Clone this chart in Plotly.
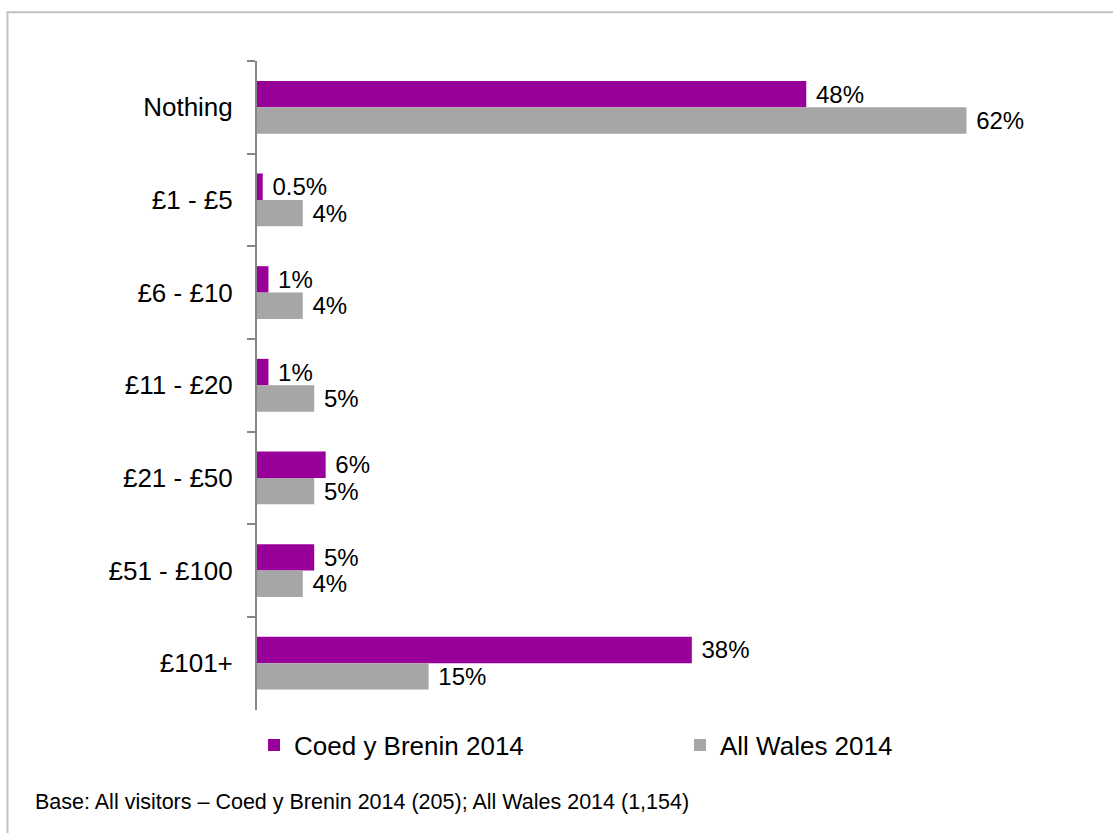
import plotly.graph_objects as go

# Spend categories, top to bottom
categories = ["Nothing", "£1 - £5", "£6 - £10", "£11 - £20", "£21 - £50", "£51 - £100", "£101+"]

# Share of visitors (%) per spend band
coed_y_brenin_2014 = [48, 0.5, 1, 1, 6, 5, 38]
all_wales_2014 = [62, 4, 4, 5, 5, 4, 15]

series_names = ["Coed y Brenin 2014", "All Wales 2014"]
footnote = "Base: All visitors – Coed y Brenin 2014 (205); All Wales 2014 (1,154)"

PURPLE = "#990099"
GREY = "#a6a6a6"
FONT = "Liberation Sans, Arial, sans-serif"

W, H = 1113, 833
ML, MR, MT, MB = 257, 55, 61, 121


def pct_label(v):
    return "\u00a0" + f"{v:g}%"


fig = go.Figure()
for name, vals, color, leg in [
    (series_names[0], coed_y_brenin_2014, PURPLE, "legend"),
    (series_names[1], all_wales_2014, GREY, "legend2"),
]:
    fig.add_trace(go.Bar(
        name=name,
        y=categories,
        x=vals,
        orientation="h",
        marker=dict(color=color, line=dict(width=0)),
        text=[pct_label(v) for v in vals],
        textposition="outside",
        textfont=dict(family=FONT, size=24, color="#000000"),
        constraintext="none",
        cliponaxis=False,
        legend=leg,
        showlegend=True,
        hoverinfo="skip",
    ))

plot_w = W - ML - MR
plot_h = H - MT - MB


def px_x(px):
    return (px - ML) / plot_w


def px_y(py):
    return (H - MB - py) / plot_h


legend_style = dict(
    xref="container", yref="container",
    xanchor="left", yanchor="middle",
    orientation="h",
    font=dict(family=FONT, size=26, color="#000000"),
    bgcolor="rgba(0,0,0,0)",
    itemwidth=30,
)

fig.update_layout(
    width=W,
    height=H,
    margin=dict(l=ML, r=MR, t=MT, b=MB, pad=0),
    paper_bgcolor="white",
    plot_bgcolor="white",
    barmode="group",
    bargap=0.43,
    bargroupgap=0,
    showlegend=True,
    font=dict(family=FONT, color="#000000"),
    xaxis=dict(
        range=[0, 70],
        visible=False,
        showgrid=False,
        zeroline=False,
    ),
    yaxis=dict(
        autorange="reversed",
        showline=True,
        linecolor="#868686",
        linewidth=2,
        ticks="outside",
        tickson="boundaries",
        ticklen=8,
        tickwidth=1.5,
        tickcolor="#868686",
        ticklabelstandoff=17,
        tickfont=dict(family=FONT, size=26, color="#000000"),
        showgrid=False,
        zeroline=False,
    ),
    legend=dict(legend_style, x=254 / W, y=1 - 745 / H),
    legend2=dict(legend_style, x=680 / W, y=1 - 745 / H),
    shapes=[
        # outer chart frame (left and top edges visible)
        dict(
            type="rect", xref="paper", yref="paper",
            x0=px_x(7.5), x1=px_x(W + 20),
            y0=px_y(H + 20), y1=px_y(12),
            line=dict(color="#c0c0c0", width=2),
            fillcolor="rgba(0,0,0,0)",
            layer="below",
        ),
    ],
    annotations=[
        dict(
            text=footnote,
            xref="paper", yref="paper",
            x=px_x(33), y=px_y(805),
            xanchor="left", yanchor="middle",
            showarrow=False,
            font=dict(family=FONT, size=21.5, color="#000000"),
        ),
    ],
)

fig.write_html("out.html")
